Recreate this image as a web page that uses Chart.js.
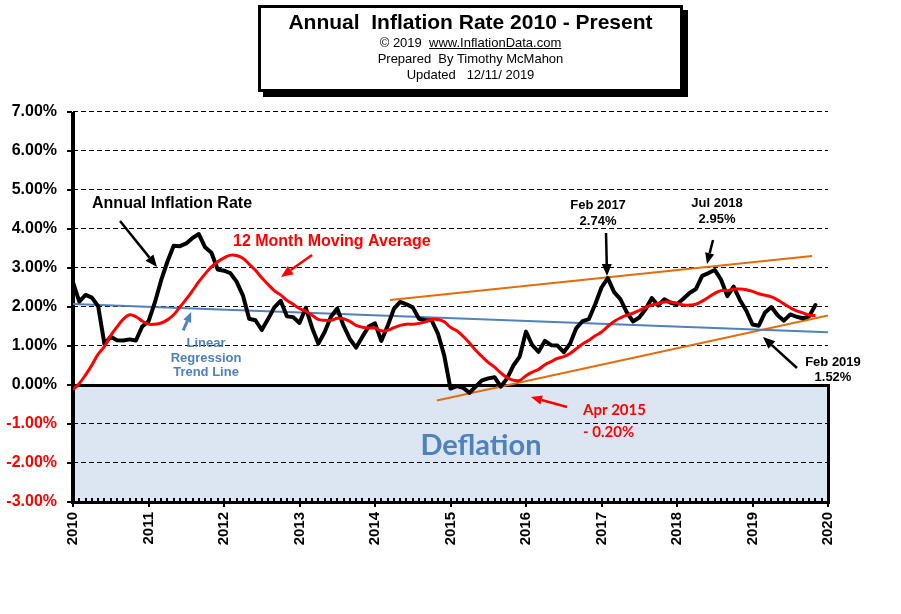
<!DOCTYPE html>
<html><head><meta charset="utf-8">
<script src="https://cdn.jsdelivr.net/npm/chart.js@4/dist/chart.umd.min.js"></script>
<style>
html,body{margin:0;padding:0;background:#fff;}
#wrap{position:relative;width:901px;height:614px;overflow:hidden;background:#fff;}
canvas{position:absolute;left:0;top:0;}
#titlebox{position:absolute;left:258px;top:5px;width:425px;height:87px;box-sizing:border-box;border:3px solid #000;background:#fff;box-shadow:5px 5px 0 #000;text-align:center;font-family:"Liberation Sans",Arial,sans-serif;color:#000;padding-top:2px;}
.t1{font-size:21px;font-weight:bold;line-height:24px;white-space:pre;}
.t2{font-size:13px;line-height:16px;white-space:pre;}
</style></head>
<body><div id="wrap"><canvas id="c" width="901" height="614"></canvas>
<div id="titlebox"><div class="t1">Annual  Inflation Rate 2010 - Present</div><div class="t2" style="margin-top:1px">© 2019  <u>www.InflationData.com</u></div><div class="t2">Prepared  By Timothy McMahon</div><div class="t2">Updated   12/11/ 2019</div></div>
</div>
<script>
// ---- data (monthly, Jan 2010 .. Nov 2019) ----
const startYear = 2010;
const inflationRate = [
  2.63, 2.14, 2.31, 2.24, 2.02, 1.05, 1.24, 1.15, 1.14, 1.17, 1.14, 1.50,
  1.63, 2.11, 2.68, 3.16, 3.57, 3.56, 3.63, 3.77, 3.87, 3.53, 3.39, 2.96,
  2.93, 2.87, 2.65, 2.30, 1.70, 1.66, 1.41, 1.69, 1.99, 2.16, 1.76, 1.74,
  1.59, 1.98, 1.47, 1.06, 1.36, 1.75, 1.96, 1.52, 1.18, 0.96, 1.24, 1.50,
  1.58, 1.13, 1.51, 1.95, 2.13, 2.07, 1.99, 1.70, 1.66, 1.66, 1.32, 0.76,
  -0.09, -0.03, -0.07, -0.20, -0.04, 0.12, 0.17, 0.20, -0.04, 0.17, 0.50, 0.73,
  1.37, 1.02, 0.85, 1.13, 1.02, 1.01, 0.84, 1.06, 1.46, 1.64, 1.69, 2.07,
  2.50, 2.74, 2.38, 2.20, 1.87, 1.63, 1.73, 1.94, 2.23, 2.04, 2.20, 2.11,
  2.07, 2.21, 2.36, 2.46, 2.80, 2.87, 2.95, 2.70, 2.28, 2.52, 2.18, 1.91,
  1.55, 1.52, 1.86, 2.00, 1.79, 1.65, 1.81, 1.75, 1.71, 1.76, 2.05
];
const movingAverage12 = [
  -0.12, 0.04, 0.26, 0.51, 0.79, 0.99, 1.27, 1.49, 1.69, 1.80, 1.75, 1.64,
  1.56, 1.56, 1.59, 1.67, 1.80, 2.00, 2.20, 2.42, 2.65, 2.85, 3.03, 3.16,
  3.26, 3.33, 3.32, 3.25, 3.10, 2.94, 2.75, 2.58, 2.42, 2.31, 2.17, 2.07,
  1.96, 1.89, 1.79, 1.68, 1.66, 1.66, 1.71, 1.70, 1.63, 1.53, 1.48, 1.46,
  1.46, 1.39, 1.40, 1.47, 1.53, 1.56, 1.56, 1.58, 1.62, 1.68, 1.68, 1.62,
  1.48, 1.39, 1.25, 1.08, 0.89, 0.73, 0.58, 0.46, 0.31, 0.19, 0.12, 0.12,
  0.24, 0.33, 0.40, 0.52, 0.60, 0.68, 0.73, 0.81, 0.93, 1.05, 1.15, 1.26,
  1.36, 1.50, 1.63, 1.72, 1.79, 1.84, 1.91, 1.99, 2.05, 2.09, 2.13, 2.13,
  2.10, 2.05, 2.05, 2.07, 2.15, 2.25, 2.35, 2.42, 2.42, 2.46, 2.46, 2.44,
  2.40, 2.34, 2.30, 2.26, 2.18, 2.08, 1.98, 1.90, 1.85, 1.79, 1.78
];
const regressionX = [2010, 2020];
const regressionY = [2.08, 1.35];
const upperChannelX = [2014.2, 2019.79];
const upperChannelY = [2.18, 3.31];
const lowerChannelX = [2014.82, 2020];
const lowerChannelY = [-0.40, 1.78];
const yearTicks = [2010, 2011, 2012, 2013, 2014, 2015, 2016, 2017, 2018, 2019, 2020];
const percentTicks = [-3, -2, -1, 0, 1, 2, 3, 4, 5, 6, 7];

const months = inflationRate.map((_, i) => startYear + i / 12);
const pts = (xs, ys) => xs.map((x, i) => ({x: x, y: ys[i]}));

const ARIAL = '"Liberation Sans", Arial, sans-serif';
const CALIBRI = 'Lato, "Open Sans", sans-serif';

function arrow(ctx, x1, y1, x2, y2, color, w, hl) {
  const ang = Math.atan2(y2 - y1, x2 - x1);
  const hw = hl * 0.42;
  const bx = x2 - hl * Math.cos(ang), by = y2 - hl * Math.sin(ang);
  ctx.strokeStyle = color; ctx.fillStyle = color; ctx.lineWidth = w; ctx.lineCap = 'butt';
  ctx.beginPath(); ctx.moveTo(x1, y1); ctx.lineTo(bx, by); ctx.stroke();
  ctx.beginPath(); ctx.moveTo(x2, y2);
  ctx.lineTo(bx - hw * Math.sin(ang), by + hw * Math.cos(ang));
  ctx.lineTo(bx + hw * Math.sin(ang), by - hw * Math.cos(ang));
  ctx.closePath(); ctx.fill();
}

const deco = {
  id: 'deco',
  beforeDatasetsDraw(chart) {
    const {ctx, chartArea: a, scales: {x, y}} = chart;
    ctx.save();
    const y0 = y.getPixelForValue(0);
    // deflation zone
    ctx.fillStyle = '#dce6f2';
    ctx.fillRect(a.left, y0, a.right - a.left, a.bottom - y0);
    // dashed grid
    ctx.strokeStyle = '#000'; ctx.lineWidth = 1; ctx.setLineDash([5, 3]);
    percentTicks.forEach(v => {
      if (v === -3) return;
      const py = Math.round(y.getPixelForValue(v)) - 0.5;
      ctx.beginPath(); ctx.moveTo(a.left, py); ctx.lineTo(a.right, py); ctx.stroke();
    });
    ctx.setLineDash([]);
    ctx.fillStyle = '#000';
    // zero line, axes, deflation box border
    ctx.fillRect(a.left - 2, y0 - 1, a.right - a.left + 4, 3);
    ctx.fillRect(a.left - 2, a.top, 4, a.bottom - a.top + 2);
    ctx.fillRect(a.left - 2, a.bottom - 1, a.right - a.left + 4, 3);
    ctx.fillRect(a.right - 1, y0 - 1, 3, a.bottom - y0 + 2);
    // y tick marks
    percentTicks.forEach(v => {
      const py = Math.round(y.getPixelForValue(v));
      ctx.fillRect(a.left - 6, py - 1, 5, 2);
    });
    // monthly minor ticks & yearly ticks
    for (let m = 1; m < 120; m++) {
      const px = Math.round(x.getPixelForValue(startYear + m / 12));
      ctx.fillRect(px - 1, a.bottom - 4, 2, 4);
    }
    yearTicks.forEach(v => {
      const px = Math.round(x.getPixelForValue(v));
      ctx.fillRect(px - 1, a.bottom, 2, 5);
    });
    ctx.restore();
  },
  afterDatasetsDraw(chart) {
    const {ctx, scales: {x, y}} = chart;
    const P = (xv, yv) => [x.getPixelForValue(xv), y.getPixelForValue(yv)];
    const text = (s, xv, yv, font, color, align) => {
      const [px, py] = P(xv, yv);
      ctx.font = font; ctx.fillStyle = color; ctx.textAlign = align || 'left'; ctx.textBaseline = 'middle';
      ctx.fillText(s, px, py);
    };
    const arr = (x1, y1, x2, y2, color, w, hl) => {
      const [a1, b1] = P(x1, y1), [a2, b2] = P(x2, y2);
      arrow(ctx, a1, b1, a2, b2, color, w, hl);
    };
    ctx.save();
    // Annual Inflation Rate
    text('Annual Inflation Rate', 2010.252, 4.64, 'bold 16px ' + ARIAL, '#000', 'left');
    arr(2010.623, 4.205, 2011.113, 3.026, '#000', 2.5, 12);
    // 12 Month Moving Average
    text('12 Month Moving Average', 2012.119, 3.667, 'bold 16px ' + ARIAL, '#ff0000', 'left');
    arr(2013.166, 3.333, 2012.755, 2.769, '#ff0000', 2.5, 12);
    // Linear Regression Trend Line
    const blue = '#4f81bd';
    text('Linear', 2011.762, 1.077, 'bold 13px ' + ARIAL, blue, 'center');
    text('Regression', 2011.762, 0.692, 'bold 13px ' + ARIAL, blue, 'center');
    text('Trend Line', 2011.762, 0.333, 'bold 13px ' + ARIAL, blue, 'center');
    arr(2011.46, 1.40, 2011.566, 1.87, blue, 3, 10);
    // Feb 2017
    text('Feb 2017', 2016.954, 4.615, 'bold 13px ' + ARIAL, '#000', 'center');
    text('2.74%', 2016.954, 4.205, 'bold 13px ' + ARIAL, '#000', 'center');
    arr(2017.06, 3.897, 2017.073, 2.795, '#000', 2.5, 12);
    // Jul 2018
    text('Jul 2018', 2018.53, 4.667, 'bold 13px ' + ARIAL, '#000', 'center');
    text('2.95%', 2018.53, 4.256, 'bold 13px ' + ARIAL, '#000', 'center');
    arr(2018.477, 3.718, 2018.397, 3.103, '#000', 2.5, 11);
    // Feb 2019
    text('Feb 2019', 2020.066, 0.59, 'bold 13px ' + ARIAL, '#000', 'center');
    text('1.52%', 2020.066, 0.205, 'bold 13px ' + ARIAL, '#000', 'center');
    arr(2019.589, 0.436, 2019.139, 1.231, '#000', 2.5, 12);
    // Apr 2015
    text('Apr 2015', 2016.755, -0.641, 'bold 15px ' + CALIBRI, '#ff0000', 'left');
    text('- 0.20%', 2016.755, -1.205, 'bold 15px ' + CALIBRI, '#ff0000', 'left');
    arr(2016.543, -0.564, 2016.066, -0.308, '#ff0000', 2.5, 11);
    // Deflation
    text('Deflation', 2015.404, -1.564, 'bold 29px ' + CALIBRI, '#4f81bd', 'center');
    ctx.restore();
  }
};

new Chart(document.getElementById('c'), {
  type: 'line',
  data: {
    datasets: [
      {label: '12 Month Moving Average', data: pts(months, movingAverage12), borderColor: '#ff0000', borderWidth: 3, pointRadius: 0, tension: 0.4, fill: false},
      {label: 'Annual Inflation Rate', data: pts(months, inflationRate), borderColor: '#000', borderWidth: 4, pointRadius: 0, tension: 0, borderJoinStyle: 'round', borderCapStyle: 'round', fill: false},
      {label: 'Linear Regression Trend Line', data: pts(regressionX, regressionY), borderColor: '#4f81bd', borderWidth: 2, pointRadius: 0, fill: false},
      {label: 'Upper channel', data: pts(upperChannelX, upperChannelY), borderColor: '#e46c0a', borderWidth: 2, pointRadius: 0, fill: false},
      {label: 'Lower channel', data: pts(lowerChannelX, lowerChannelY), borderColor: '#e46c0a', borderWidth: 2, pointRadius: 0, fill: false}
    ]
  },
  options: {
    responsive: false,
    animation: false,
    devicePixelRatio: 1,
    layout: {padding: {top: 112, right: 73, left: 0, bottom: 0}},
    plugins: {legend: {display: false}, tooltip: {enabled: false}, title: {display: false}},
    scales: {
      x: {
        type: 'linear', min: 2010, max: 2020,
        afterFit(s) { s.height = 112; },
        afterBuildTicks(s) { s.ticks = yearTicks.map(v => ({value: v})); },
        grid: {display: false, drawTicks: false},
        border: {display: false},
        ticks: {autoSkip: false, maxRotation: 90, minRotation: 90, padding: 10, color: '#000',
          font: {family: ARIAL, size: 15, weight: 'bold'}, callback: v => String(v)}
      },
      y: {
        min: -3, max: 7,
        afterFit(s) { s.width = 73; },
        afterBuildTicks(s) { s.ticks = percentTicks.map(v => ({value: v})); },
        grid: {display: false, drawTicks: false},
        border: {display: false},
        ticks: {padding: 16, color: c => (c.tick && c.tick.value < 0) ? '#ff0000' : '#000',
          font: {family: ARIAL, size: 16, weight: 'bold'}, callback: v => v.toFixed(2) + '%'}
      }
    }
  },
  plugins: [deco]
});
</script>
</body></html>
